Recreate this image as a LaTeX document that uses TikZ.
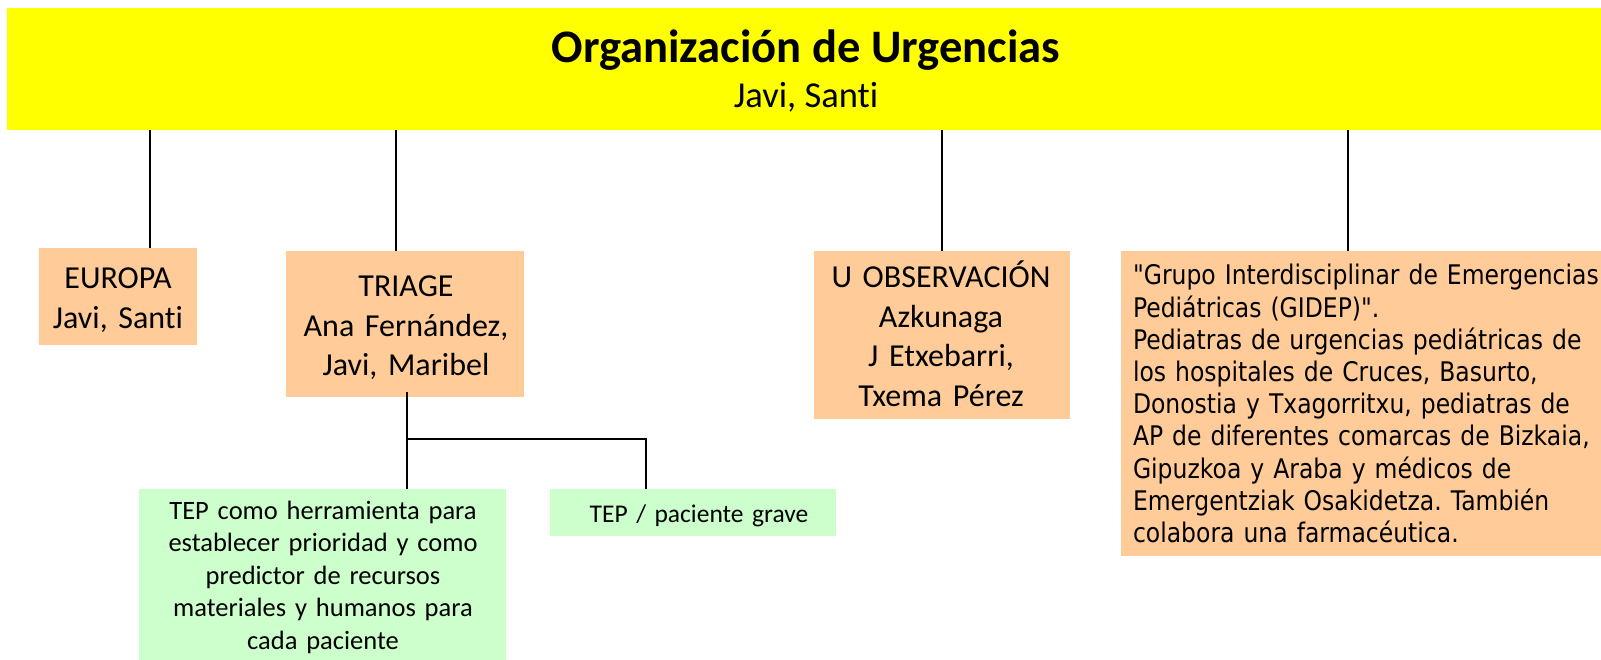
\documentclass[tikz,border=0pt]{standalone}
\usepackage{fontspec}
\setmainfont{Carlito}[Ligatures={NoCommon}]
\newfontfamily\tahoma[FakeStretch=0.87]{DejaVu Sans}
\definecolor{banneryellow}{HTML}{FFFF00}
\definecolor{peach}{HTML}{FFCC99}
\definecolor{mint}{HTML}{CCFFCC}
\frenchspacing
\begin{document}
\begin{tikzpicture}[x=1pt,y=-1pt,
  boxbase/.style={inner sep=0pt, outer sep=0pt, anchor=north west},
  peachbox/.style={boxbase, fill=peach},
  mintbox/.style={boxbase, fill=mint},
  txt/.style={inner sep=0pt, outer sep=0pt, anchor=base, align=center},
  bigtxt/.style={txt, font=\fontsize{32}{39.5}\selectfont},
  smalltxt/.style={txt, font=\fontsize{26.5}{32.5}\selectfont},
  conn/.style={draw=black, line width=1.6pt}
]
\useasboundingbox (0,0) rectangle (1601,660);
\fill[white] (0,0) rectangle (1601,660);

% banner
\node[boxbase, fill=banneryellow, minimum width=1594pt, minimum height=122pt] (banner) at (7,8) {};
\node[txt, font=\fontsize{46.6}{50}\selectfont\bfseries] (title) at (806,63) {Organización de Urgencias};
\node[txt, font=\fontsize{36.5}{40}\selectfont] (subtitle) at (806,108) {Javi, Santi};

% second level boxes
\node[peachbox, minimum width=158pt, minimum height=97pt] (europa) at (39,248) {};
\node[bigtxt, text width=158pt] (europa-t) at (118,289) {EUROPA\\Javi, Santi};

\node[peachbox, minimum width=238pt, minimum height=146pt] (triage) at (286,251) {};
\node[bigtxt, text width=238pt] (triage-t) at (406,297) {TRIAGE\\Ana Fernández,\\Javi, Maribel};

\node[peachbox, minimum width=256pt, minimum height=168pt] (uobs) at (814,251) {};
\node[bigtxt, text width=256pt] (uobs-t) at (941,288) {U OBSERVACIÓN\\Azkunaga\\J Etxebarri,\\Txema Pérez};

\node[peachbox, minimum width=480pt, minimum height=305pt] (gidep) at (1121,251) {};
\node[inner sep=0pt, outer sep=0pt, anchor=base west, align=left, text width=470pt,
      font=\tahoma\fontsize{27}{32.2}\selectfont] (gidep-t) at (1133,285)
  {"Grupo Interdisciplinar de Emergencias\\Pediátricas (GIDEP)".\\Pediatras de urgencias pediátricas de\\los hospitales de Cruces, Basurto,\\Donostia y Txagorritxu, pediatras de\\AP de diferentes comarcas de Bizkaia,\\Gipuzkoa y Araba y médicos de\\Emergentziak Osakidetza. También\\colabora una farmacéutica.};

% third level boxes
\node[mintbox, minimum width=367pt, minimum height=171pt] (tep1) at (139,489) {};
\node[smalltxt, text width=367pt] (tep1-t) at (323,519) {TEP como herramienta para\\establecer prioridad y como\\predictor de recursos\\materiales y humanos para\\cada paciente};

\node[mintbox, minimum width=286pt, minimum height=47pt] (tep2) at (550,489) {};
\node[smalltxt, text width=286pt, font=\fontsize{25.5}{32}\selectfont] (tep2-t) at (699,522) {TEP / paciente grave};

% connectors from banner
\draw[conn] ([xshift=32pt]europa.north |- banner.south) -- ([xshift=32pt]europa.north);
\draw[conn] ([xshift=-9pt]triage.north |- banner.south) -- ([xshift=-9pt]triage.north);
\draw[conn] (uobs.north |- banner.south) -- (uobs.north);
\draw[conn] ([xshift=-13pt]gidep.north |- banner.south) -- ([xshift=-13pt]gidep.north);

% connectors from triage
\coordinate (split) at (407,439);
\coordinate (split2) at (646,439);
\draw[conn] ([xshift=2pt,yshift=5pt]triage.south) -- (split) -- (split |- tep1.north);
\draw[conn] (split) -- (split2) -- (split2 |- tep2.north);
\end{tikzpicture}
\end{document}
